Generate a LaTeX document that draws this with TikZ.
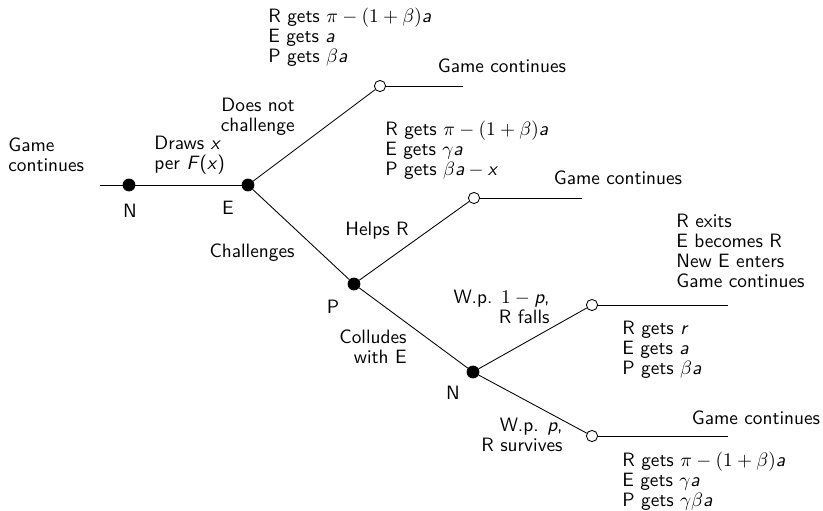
\documentclass[tikz,border=0pt]{standalone}
\usepackage{amsmath}
\usetikzlibrary{calc}
\newcommand{\sv}[1]{\textit{#1}}
\tikzset{
  every node/.style={font={\sffamily\fontsize{10}{10.4}\selectfont}, inner sep=0pt},
  branch/.style={line width=0.45pt, black},
  chance/.style={circle, fill=black, draw=black, minimum size=6.2pt, inner sep=0pt},
  leaf/.style={circle, fill=white, draw=black, line width=0.45pt, minimum size=5.8pt, inner sep=0pt},
  lbl/.style={align=left, anchor=west},
  rlbl/.style={align=right, anchor=east},
}
\begin{document}
\begin{tikzpicture}[x=0.518pt, y=-0.518pt]
\useasboundingbox (0,0) rectangle (823,510);
% points
\coordinate (s) at (100,185);
\node[chance] (n1) at (129,185) {};
\node[chance] (e1) at (248,185) {};
\node[leaf] (t1) at (380,86) {};
\coordinate (t1e) at (463,86);
\node[chance] (p1) at (354,284) {};
\node[leaf] (t2) at (474,198) {};
\coordinate (t2e) at (582,198);
\node[chance] (n2) at (473,372) {};
\node[leaf] (t3) at (592,305) {};
\coordinate (t3e) at (728,305);
\node[leaf] (t4) at (592,436) {};
\coordinate (t4e) at (728,436);
% branches
\draw[branch] (s) -- (n1);
\draw[branch] (n1) -- (e1);
\draw[branch] (e1) -- (t1);
\draw[branch] (t1) -- (t1e);
\draw[branch] (e1) -- (p1);
\draw[branch] (p1) -- (t2);
\draw[branch] (t2) -- (t2e);
\draw[branch] (p1) -- (n2);
\draw[branch] (n2) -- (t3);
\draw[branch] (t3) -- (t3e);
\draw[branch] (n2) -- (t4);
\draw[branch] (t4) -- (t4e);
% labels
\node[lbl] (gc0) at (8,155) {Game\\continues};
\node[lbl] (draws) at (154,155) {Draws \sv{x}\\per \sv{F}(\sv{x})};
\node (ln1) at (130,211) {N};
\node (le1) at (228,208) {E};
\node[rlbl] (dnc) at (295,117) {Does not\\challenge};
\node[lbl] (pay1) at (268,37) {R gets $\pi-(1+\beta)\sv{a}$\\E gets \sv{a}\\P gets $\beta\sv{a}$};
\node (gc1) at (502,66) {Game continues};
\node (chal) at (252,253) {Challenges};
\node (help) at (377,231) {Helps R};
\node[lbl] (pay2) at (385,150) {R gets $\pi-(1+\beta)\sv{a}$\\E gets $\gamma\sv{a}$\\P gets $\beta\sv{a}-\sv{x}$};
\node (gc2) at (618,178) {Game continues};
\node (lp1) at (333,307) {P};
\node[rlbl] (coll) at (407,347) {Colludes\\with E};
\node[lbl] (exits) at (676,251) {R exits\\E becomes R\\New E enters\\Game continues};
\node[rlbl] (falls) at (550,307) {W.p. $1-\sv{p}$,\\R falls};
\node[lbl] (pay3) at (622,350) {R gets \sv{r}\\E gets \sv{a}\\P gets $\beta\sv{a}$};
\node (ln2) at (453,393) {N};
\node[rlbl] (surv) at (563,435) {W.p. \sv{p},\\R survives};
\node (gc4) at (756,418) {Game continues};
\node[lbl] (pay4) at (622,481) {R gets $\pi-(1+\beta)\sv{a}$\\E gets $\gamma\sv{a}$\\P gets $\gamma\beta\sv{a}$};
\end{tikzpicture}
\end{document}
